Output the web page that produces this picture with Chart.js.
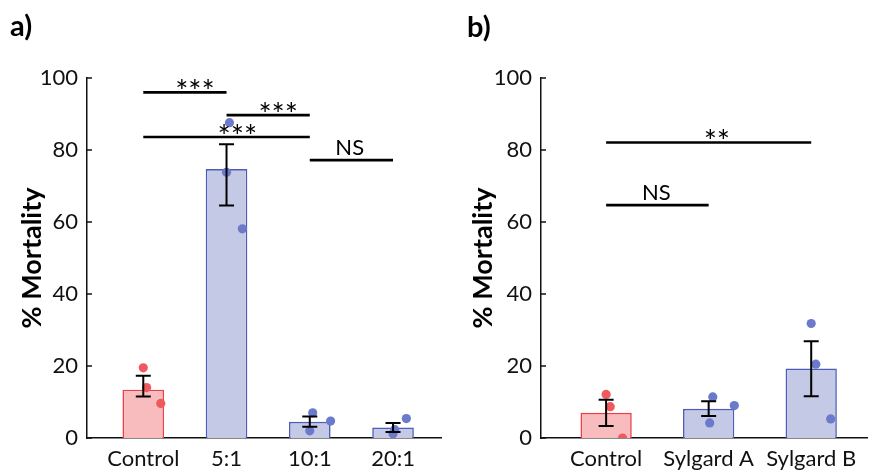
<!DOCTYPE html>
<html><head><meta charset="utf-8">
<script src="https://cdn.jsdelivr.net/npm/chart.js@4/dist/chart.umd.min.js"></script>
<style>
html,body{margin:0;padding:0;background:#fff;}
#wrap{position:relative;width:872px;height:473px;overflow:hidden;background:#fff;}
canvas{position:absolute;top:0;}
.pl{position:absolute;font-family:Lato;font-weight:bold;font-size:29px;line-height:29px;color:#000;}
</style></head><body>
<div id="wrap">
<canvas id="ca" width="446" height="473" style="left:0"></canvas>
<canvas id="cb" width="426" height="473" style="left:446px"></canvas>
<div class="pl" style="left:10px;top:10px">a)</div>
<div class="pl" style="left:467px;top:11px">b)</div>
</div>
<script>
// ---- data: panel a ----
const catsA = ['Control', '5:1', '10:1', '20:1'];
const meansA = [13.4, 74.7, 4.5, 2.9];
const errLowA = [11.5, 64.6, 3.1, 1.7];
const errHighA = [17.3, 81.6, 6.0, 4.2];
const ptsA = [[19.5, 14.0, 9.6], [87.6, 73.8, 58.1], [7.0, 2.0, 4.7], [5.4, 2.3, 1.2]];
const jitA = [[0, 0.04, 0.21], [0.035, 0, 0.19], [0.035, 0, 0.25], [0.16, 0.02, 0]];
const sigFromA = [1, 2, 1, 3];
const sigToA = [2, 3, 3, 4];
const sigYA = [96.0, 89.7, 83.6, 77.2];
const sigLabelA = ['***', '***', '***', 'NS'];
const sigLabelXA = [1.62, 2.62, 2.13, 3.48];
// ---- data: panel b ----
const catsB = ['Control', 'Sylgard A', 'Sylgard B'];
const meansB = [7.0, 8.1, 19.3];
const errLowB = [3.3, 6.1, 11.6];
const errHighB = [10.6, 10.2, 26.9];
const ptsB = [[12.1, 8.7, 0.0], [11.4, 4.2, 9.0], [31.8, 20.5, 5.3]];
const jitB = [[0, 0.04, 0.16], [0.04, 0.01, 0.25], [0, 0.045, 0.19]];
const sigFromB = [1, 1];
const sigToB = [3, 2];
const sigYB = [82.1, 64.7];
const sigLabelB = ['**', 'NS'];
const sigLabelXB = [2.08, 1.49];
// ---- ticks ----
const yTickValues = [0, 20, 40, 60, 80, 100];
const yTitle = '% Mortality';

const FONT = 'Lato';
const RED_FILL = '#f9bcbe', RED_EDGE = '#ec3f47', RED_PT = '#ef5a5f';
const BLUE_FILL = '#c4c9e6', BLUE_EDGE = '#4d5cb8', BLUE_PT = '#6b7acb';

function makeChart(id, cats, means, lo, hi, pts, jit, sFrom, sTo, sY, sLab, sLabX, lay) {
  const barData = means.map((m, i) => ({x: i + 1, y: m}));
  const ptData = [];
  pts.forEach((arr, i) => arr.forEach((v, j) => ptData.push({x: i + 1 + jit[i][j], y: v, cat: i})));
  const extras = {
    id: 'extras',
    afterDatasetsDraw(chart) {
      const ctx = chart.ctx, xs = chart.scales.x, ys = chart.scales.y;
      ctx.save();
      // inward y ticks
      ctx.strokeStyle = '#111'; ctx.lineWidth = 1.5;
      yTickValues.forEach(v => {
        const py = ys.getPixelForValue(v);
        ctx.beginPath(); ctx.moveTo(xs.left, py); ctx.lineTo(xs.left + 5, py); ctx.stroke();
      });
      // error bars
      ctx.strokeStyle = '#000'; ctx.lineWidth = 2;
      means.forEach((m, i) => {
        const px = xs.getPixelForValue(i + 1);
        const pl = ys.getPixelForValue(lo[i]), ph = ys.getPixelForValue(hi[i]);
        ctx.beginPath();
        ctx.moveTo(px, pl); ctx.lineTo(px, ph);
        ctx.moveTo(px - 7.5, pl); ctx.lineTo(px + 7.5, pl);
        ctx.moveTo(px - 7.5, ph); ctx.lineTo(px + 7.5, ph);
        ctx.stroke();
      });
      // significance
      ctx.lineWidth = 2.6;
      ctx.fillStyle = '#000';
      ctx.textAlign = 'center';
      ctx.textBaseline = 'alphabetic';
      sY.forEach((y, k) => {
        const py = ys.getPixelForValue(y);
        ctx.beginPath();
        ctx.moveTo(xs.getPixelForValue(sFrom[k]), py);
        ctx.lineTo(xs.getPixelForValue(sTo[k]), py);
        ctx.stroke();
        const isStar = sLab[k].indexOf('*') >= 0;
        ctx.font = (isStar ? '31px ' : '22px ') + FONT;
        ctx.fillText(sLab[k], xs.getPixelForValue(sLabX[k]), py + (isStar ? 10 : -5));
      });
      ctx.restore();
    }
  };
  return new Chart(document.getElementById(id), {
    data: {
      datasets: [
        {
          type: 'scatter', data: ptData, order: 1,
          pointRadius: 4.6, pointBorderWidth: 0,
          pointBackgroundColor: c => (c.raw && c.raw.cat === 0) ? RED_PT : BLUE_PT
        },
        {
          type: 'bar', data: barData, order: 2,
          backgroundColor: means.map((m, i) => i === 0 ? RED_FILL : BLUE_FILL),
          borderColor: means.map((m, i) => i === 0 ? RED_EDGE : BLUE_EDGE),
          borderWidth: 1.6,
          categoryPercentage: 0.5, barPercentage: 1.0
        }
      ]
    },
    options: {
      responsive: false, animation: false, devicePixelRatio: 1,
      layout: {padding: {top: 78, left: 0, right: 0, bottom: 0}},
      plugins: {legend: {display: false}, tooltip: {enabled: false}},
      scales: {
        x: {
          type: 'linear', min: lay.xmin, max: lay.xmax, offset: false,
          grid: {display: false, drawTicks: false, offset: false},
          border: {display: true, color: '#111', width: 1.5},
          afterBuildTicks: s => { s.ticks = cats.map((c, i) => ({value: i + 1})); },
          afterFit: s => { s.height = 35; },
          ticks: {
            autoSkip: false, maxRotation: 0, padding: 8, color: '#111',
            font: {family: FONT, size: 22},
            callback: v => cats[v - 1]
          }
        },
        y: {
          min: 0, max: 100,
          grid: {display: false, drawTicks: false},
          border: {display: true, color: '#111', width: 1.5},
          afterBuildTicks: s => { s.ticks = yTickValues.map(v => ({value: v})); },
          afterFit: s => { s.width = lay.axisW; },
          ticks: {padding: 9, color: '#111', font: {family: FONT, size: 22}},
          title: {
            display: true, text: yTitle, color: '#000',
            font: {family: FONT, size: 27, weight: 'bold'},
            padding: {top: lay.titlePad, bottom: 0}
          }
        }
      }
    },
    plugins: [extras]
  });
}

makeChart('ca', catsA, meansA, errLowA, errHighA, ptsA, jitA, sigFromA, sigToA, sigYA, sigLabelA, sigLabelXA,
  {xmin: 0.324, xmax: 4.581, axisW: 87, titlePad: 16});
makeChart('cb', catsB, meansB, errLowB, errHighB, ptsB, jitB, sigFromB, sigToB, sigYB, sigLabelB, sigLabelXB,
  {xmin: 0.365, xmax: 3.548, axisW: 95, titlePad: 21});
</script>
</body></html>
